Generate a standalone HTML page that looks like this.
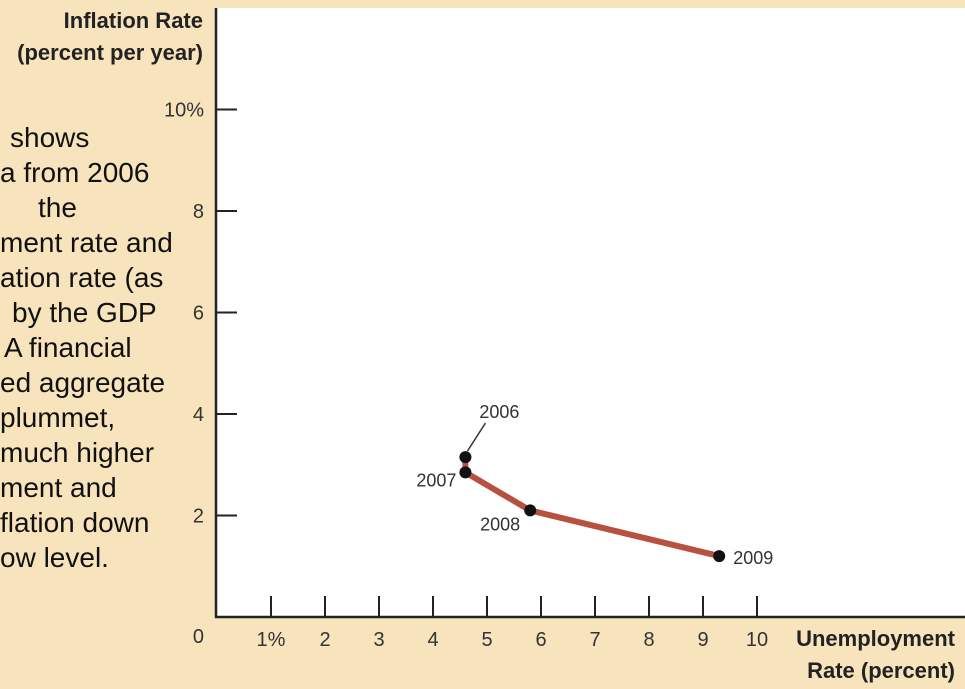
<!DOCTYPE html>
<html><head><meta charset="utf-8"><style>
body{margin:0;width:965px;height:689px;background:#f8e4bc;overflow:hidden;font-family:"Liberation Sans",sans-serif;}
svg{position:absolute;left:0;top:0}
.side{position:absolute;left:0;top:0;width:215px;height:689px;overflow:hidden}
.side div{position:absolute;font-size:28px;line-height:32px;color:#111;white-space:nowrap}
</style></head><body>
<div class="side">
<div style="left:10px;top:122px">shows</div>
<div style="left:0;top:157px">a from 2006</div>
<div style="left:38px;top:192px">the</div>
<div style="left:0;top:227px">ment rate and</div>
<div style="left:0;top:262px">ation rate (as</div>
<div style="left:12px;top:297px">by the GDP</div>
<div style="left:4px;top:332px">A financial</div>
<div style="left:0;top:367px">ed aggregate</div>
<div style="left:0;top:402px">plummet,</div>
<div style="left:0;top:437px">much higher</div>
<div style="left:0;top:472px">ment and</div>
<div style="left:0;top:507px">flation down</div>
<div style="left:0;top:542px">ow level.</div>
</div>
<svg id="c" width="965" height="689"></svg>
<script>
const years=["2006","2007","2008","2009"];
const unemp=[4.6,4.6,5.8,9.3];
const infl=[3.15,2.85,2.1,1.2];
const xTicks=[1,2,3,4,5,6,7,8,9,10];
const xTickLabels=["1%","2","3","4","5","6","7","8","9","10"];
const yTicks=[2,4,6,8,10];
const yTickLabels=["2","4","6","8","10%"];
const X=v=>217+v*54, Y=v=>617-v*50.75;
const s=document.getElementById('c'),NS="http://www.w3.org/2000/svg";
function m(t,a,txt){const e=document.createElementNS(NS,t);for(const k in a)e.setAttribute(k,a[k]);if(txt!=null)e.textContent=txt;s.appendChild(e);return e;}
let e;
e=m('rect',{x:216,y:8,width:749,height:609,fill:'#fff'});


e=m('line',{x1:216,y1:8,x2:216,y2:618,stroke:'#222','stroke-width':2.5});


e=m('line',{x1:215,y1:617,x2:965,y2:617,stroke:'#222','stroke-width':2.5});


const tf='font-family:"Liberation Sans",sans-serif;font-size:20px;fill:#333';
xTicks.forEach((v,i)=>{
 e=m('line',{x1:X(v),y1:596,x2:X(v),y2:617,stroke:'#222','stroke-width':2});
 
 
 e=m('text',{x:X(v),y:646,'text-anchor':'middle',style:tf},xTickLabels[i]);
 
 
});
yTicks.forEach((v,i)=>{
 e=m('line',{x1:216,y1:Y(v),x2:237,y2:Y(v),stroke:'#222','stroke-width':2});
 
 
 e=m('text',{x:204,y:Y(v)+7,'text-anchor':'end',style:tf},yTickLabels[i]);
 
 
});
e=m('text',{x:204,y:643,'text-anchor':'end',style:tf},"0");


const bf='font-family:"Liberation Sans",sans-serif;font-size:22px;font-weight:bold;fill:#222';
e=m('text',{x:203,y:28,'text-anchor':'end',style:bf},"Inflation Rate");


e=m('text',{x:203,y:60,'text-anchor':'end',style:bf},"(percent per year)");


e=m('text',{x:955,y:646,'text-anchor':'end',style:bf},"Unemployment");


e=m('text',{x:955,y:678,'text-anchor':'end',style:bf},"Rate (percent)");


e=m('polyline',{points:unemp.map((u,i)=>X(u)+','+Y(infl[i])).join(' '),fill:'none',stroke:'#b85240','stroke-width':6,'stroke-linejoin':'round'});


const lf='font-family:"Liberation Sans",sans-serif;font-size:18px;fill:#333';
const off=[[14,-39,'start'],[-9,14,'end'],[-10,20,'end'],[14,8,'start']];
e=m('line',{x1:X(unemp[0])+2,y1:Y(infl[0])-6,x2:X(unemp[0])+20,y2:Y(infl[0])-34,stroke:'#333','stroke-width':1.5});


years.forEach((yr,i)=>{
 e=m('circle',{cx:X(unemp[i]),cy:Y(infl[i]),r:6,fill:'#111'});
 
 
 e=m('text',{x:X(unemp[i])+off[i][0],y:Y(infl[i])+off[i][1],'text-anchor':off[i][2],style:lf},yr);
 
 
});
</script>
</body></html>
